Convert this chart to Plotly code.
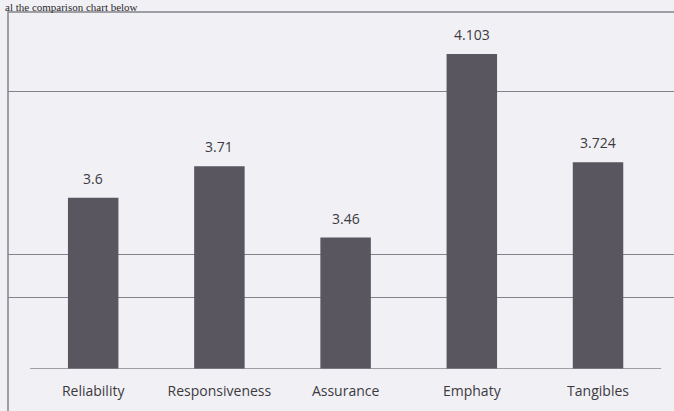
import plotly.graph_objects as go

categories = ["Reliability", "Responsiveness", "Assurance", "Emphaty", "Tangibles"]
values = [3.6, 3.71, 3.46, 4.103, 3.724]
value_labels = ["3.6", "3.71", "3.46", "4.103", "3.724"]
grid_values = [3.25, 3.4, 3.97]

BG = "#f1f0f5"
BAR = "#5a5660"
LINE = "#85838a"
TXT = "#3c3a40"

fig = go.Figure()
fig.add_trace(go.Bar(x=categories, y=values, marker=dict(color=BAR, line=dict(width=0)),
                     width=0.4, hoverinfo="skip"))

for c, v, t in zip(categories, values, value_labels):
    fig.add_annotation(x=c, y=v, text=t, showarrow=False, yanchor="bottom", yshift=8,
                       font=dict(family="Open Sans", size=14, color=TXT))

# baseline (x axis line) spanning the category band
fig.add_shape(type="line", xref="x", yref="y", x0=-0.5, x1=4.5, y0=3, y1=3,
              line=dict(color=LINE, width=1.5))
# outer frame (left and top border, cut by the page edge)
fig.add_shape(type="rect", xref="paper", yref="paper", x0=0, x1=1.02, y0=-0.3, y1=1,
              line=dict(color=LINE, width=1.5))

# scanned caption at the very top
fig.add_annotation(xref="paper", yref="paper", x=-0.008, y=1.0154, xanchor="left", yanchor="middle",
                   text="al the comparison chart below", showarrow=False,
                   font=dict(family="Liberation Serif", size=11, color="#2a2a2a"))

fig.update_layout(
    width=674, height=411,
    margin=dict(l=8, r=0, t=12, b=42),
    paper_bgcolor=BG, plot_bgcolor=BG,
    showlegend=False,
    bargap=0.6,
    xaxis=dict(type="category", range=[-0.675, 4.602], showgrid=False, showline=False,
               ticks="", ticklabelstandoff=12,
               tickfont=dict(family="Open Sans", size=14, color=TXT)),
    yaxis=dict(range=[3, 4.25], tickvals=grid_values, showticklabels=False,
               showgrid=True, gridcolor=LINE, gridwidth=1, zeroline=False, showline=False),
)

fig.write_html("out.html")
